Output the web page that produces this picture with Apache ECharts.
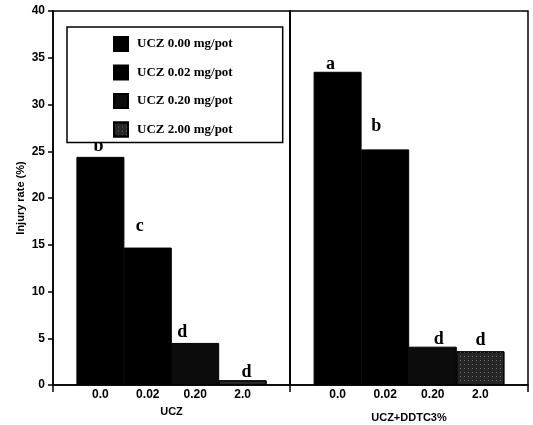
<!DOCTYPE html>
<html>
<head>
<meta charset="utf-8">
<script src="https://cdn.jsdelivr.net/npm/echarts@6/dist/echarts.min.js"></script>
<style>
  html, body { margin: 0; padding: 0; background: #fff; }
  #main { width: 533px; height: 425px; }
</style>
</head>
<body>
<div id="main"></div>
<script>
// dose categories on each panel
const doseLabels = ['0.0', '0.02', '0.20', '2.0'];
const seriesNames = ['UCZ 0.00 mg/pot', 'UCZ 0.02 mg/pot', 'UCZ 0.20 mg/pot', 'UCZ 2.00 mg/pot'];
const groupNames = ['UCZ', 'UCZ+DDTC3%'];

// injury rate (%)
const uczValues = [24.4, 14.7, 4.5, 0.5];
const uczDdtcValues = [33.5, 25.2, 4.1, 3.6];

// significance letters
const uczLetters = ['b', 'c', 'd', 'd'];
const uczDdtcLetters = ['a', 'b', 'd', 'd'];

// styling
const barColors = ['#000000', '#000000', '#0c0c0c', '#262626'];
const letterShift = [
  [[-2, -2], [-8, -12], [-13, -2], [4, 1]],
  [[-7, 2], [-9, -14], [6, 2], [0, -2]]
];

var myChart = echarts.init(document.getElementById('main'));

var axisFont = { fontFamily: 'Liberation Sans', fontWeight: 'bold', fontSize: 12, color: '#000' };

function makeSeries(gi, values, letters) {
  return values.map(function (v, i) {
    var item = {
      name: seriesNames[i],
      type: 'bar',
      xAxisIndex: gi,
      yAxisIndex: gi,
      barWidth: 48,
      barGap: '-100%',
      itemStyle: {
        color: barColors[i],
        borderColor: '#000',
        borderWidth: 1
      },
      label: {
        show: true,
        position: 'top',
        distance: 0,
        offset: letterShift[gi][i],
        formatter: letters[i],
        fontFamily: 'Liberation Serif',
        fontWeight: 'bold',
        fontSize: 18,
        color: '#000'
      },
      data: [[i, v]]
    };
    if (i === 3) {
      item.itemStyle.decal = {
        symbol: 'rect',
        symbolSize: 1,
        color: 'rgba(200,200,200,0.45)',
        dashArrayX: [1, 3],
        dashArrayY: [1, 3]
      };
    }
    return item;
  });
}

function makeXAxis(gi, ticks, nameGap) {
  return {
    type: 'value',
    gridIndex: gi,
    min: -1,
    max: 4,
    interval: 1,
    name: groupNames[gi],
    nameLocation: 'middle',
    nameGap: nameGap,
    nameTextStyle: { fontFamily: 'Liberation Sans', fontWeight: 'bold', fontSize: 11, color: '#000' },
    axisLine: { show: true, onZero: false, lineStyle: { color: '#000', width: 1.5 } },
    axisTick: { show: true, customValues: ticks, length: 7, lineStyle: { color: '#000', width: 1.5 } },
    axisLabel: Object.assign({
      customValues: [0, 1, 2, 3],
      margin: 4,
      formatter: function (v) { return doseLabels[v] || ''; }
    }, axisFont),
    splitLine: { show: false }
  };
}

var option = {
  animation: false,
  backgroundColor: '#fff',
  grid: [
    { left: 53, right: 243, top: 11, bottom: 40, outerBoundsMode: 'none', show: true, borderColor: '#000', borderWidth: 1.5 },
    { left: 290, right: 5, top: 11, bottom: 40, outerBoundsMode: 'none', show: true, borderColor: '#000', borderWidth: 1.5 }
  ],
  legend: {
    orient: 'vertical',
    left: 67,
    top: 27,
    padding: [9, 50, 5, 46],
    itemGap: 12.5,
    itemWidth: 14,
    itemHeight: 14,
    icon: 'rect',
    borderColor: '#000',
    borderWidth: 1.5,
    backgroundColor: '#fff',
    data: seriesNames,
    textStyle: { fontFamily: 'Liberation Serif', fontWeight: 'bold', fontSize: 13, color: '#000', padding: [0, 0, 0, 4] }
  },
  xAxis: [
    makeXAxis(0, [-1, 4], 21),
    makeXAxis(1, [4], 27)
  ],
  yAxis: [
    {
      type: 'value',
      gridIndex: 0,
      min: 0,
      max: 40,
      interval: 5,
      name: 'Injury rate (%)',
      nameLocation: 'middle',
      nameRotate: 90,
      nameGap: 27,
      nameTextStyle: { fontFamily: 'Liberation Sans', fontWeight: 'bold', fontSize: 11, color: '#000' },
      axisLine: { show: true, onZero: false, lineStyle: { color: '#000', width: 1.5 } },
      axisTick: { show: true, length: 5, lineStyle: { color: '#000', width: 1.5 } },
      axisLabel: Object.assign({ margin: 8 }, axisFont),
      splitLine: { show: false }
    },
    {
      type: 'value',
      gridIndex: 1,
      min: 0,
      max: 40,
      interval: 5,
      axisLine: { show: true, onZero: false, lineStyle: { color: '#000', width: 1.5 } },
      axisTick: { show: false },
      axisLabel: { show: false },
      splitLine: { show: false }
    }
  ],
  series: makeSeries(0, uczValues, uczLetters).concat(makeSeries(1, uczDdtcValues, uczDdtcLetters))
};

myChart.setOption(option);
</script>
</body>
</html>
